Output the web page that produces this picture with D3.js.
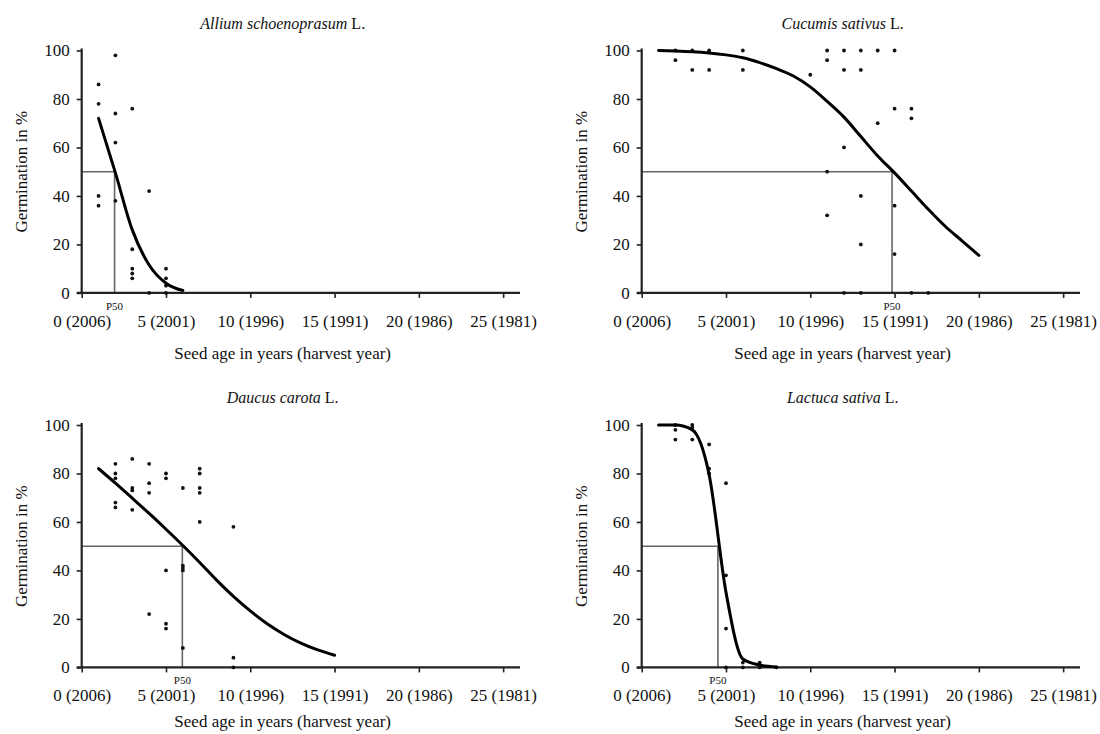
<!DOCTYPE html>
<html>
<head>
<meta charset="utf-8">
<script src="https://cdn.jsdelivr.net/npm/d3@7"></script>
<style>
  html, body { margin: 0; padding: 0; background: #fff; }
  svg { display: block; }
  text { font-family: "Liberation Serif", "DejaVu Serif", "Times New Roman", Times, serif; fill: #111; }
</style>
</head>
<body>
<svg id="chart" width="1100" height="734"></svg>
<script>
// ---------- data ----------
const ageTicks = [0, 5, 10, 15, 20, 25];
const baseYear = 2006;
const germTicks = [0, 20, 40, 60, 80, 100];

const speciesNames = ["Allium schoenoprasum", "Cucumis sativus", "Daucus carota", "Lactuca sativa"];
const authority = " L.";

// observed germination: [seed age (years), germination %]
const alliumPoints = [
  [1, 86], [1, 78], [1, 40], [1, 36],
  [2, 98], [2, 74], [2, 62], [2, 38],
  [3, 76], [3, 18], [3, 10], [3, 8], [3, 6],
  [4, 42], [4, 0],
  [5, 10], [5, 6], [5, 3], [5, 0]
];
const cucumisPoints = [
  [2, 100], [2, 96],
  [3, 100], [3, 92],
  [4, 100], [4, 92],
  [6, 100], [6, 92],
  [10, 90],
  [11, 100], [11, 96], [11, 50], [11, 32],
  [12, 100], [12, 92], [12, 60], [12, 0],
  [13, 100], [13, 92], [13, 40], [13, 20], [13, 0],
  [14, 100], [14, 70],
  [15, 100], [15, 76], [15, 36], [15, 16],
  [16, 76], [16, 72], [16, 0],
  [17, 0]
];
const daucusPoints = [
  [2, 84], [2, 80], [2, 78], [2, 68], [2, 66],
  [3, 86], [3, 74], [3, 73], [3, 65],
  [4, 84], [4, 76], [4, 72], [4, 22],
  [5, 80], [5, 78], [5, 40], [5, 18], [5, 16],
  [6, 74], [6, 42], [6, 41], [6, 40], [6, 8],
  [7, 82], [7, 80], [7, 74], [7, 72], [7, 60],
  [9, 58], [9, 4], [9, 0]
];
const lactucaPoints = [
  [2, 100], [2, 98], [2, 94],
  [3, 100], [3, 99], [3, 94],
  [4, 92], [4, 82], [4, 80],
  [5, 76], [5, 38], [5, 16], [5, 0],
  [6, 2], [6, 0],
  [7, 2], [7, 0],
  [8, 0]
];

// fitted curves: [seed age, germination %]
const alliumFit = [[1, 72], [2, 49.5], [3, 26], [4, 11.5], [5, 4], [6, 1]];
const cucumisFit = [[1, 100], [2, 99.8], [3, 99.5], [4, 99], [5, 98.2], [6, 97], [7, 95], [8, 92.5],
  [9, 89.5], [10, 85], [11, 79], [12, 72.5], [13, 64.5], [14, 56.5], [15, 49.5], [16, 42], [17, 34.5],
  [18, 27.5], [19, 21.5], [20, 15.5]];
const daucusFit = [[1, 82], [2, 76], [3, 69.8], [4, 63.5], [5, 57], [6, 50.3], [7, 43.3], [8, 36],
  [9, 29.3], [10, 23.3], [11, 18], [12, 13.6], [13, 10], [14, 7.2], [15, 5]];
const lactucaFit = [[1, 100], [2, 100], [3, 98], [4, 79.5], [5, 31], [6, 3.5], [7, 1], [8, 0.2]];

// P50 (age at 50 % germination)
const p50Ages = [1.95, 14.85, 5.97, 4.52];
const p50Level = 50;

// ---------- layout ----------
const svg = d3.select("#chart");
const panelLeft = [81.7, 641.7];
const panelTop = [50.5, 425];
const plotW = 438.3;       // domain 0..26 years
const plotH = 242.4;
const xTitleOffset = [66, 60];

const panels = [
  { name: speciesNames[0], pts: alliumPoints, fit: alliumFit, p50: p50Ages[0], col: 0, row: 0 },
  { name: speciesNames[1], pts: cucumisPoints, fit: cucumisFit, p50: p50Ages[1], col: 1, row: 0 },
  { name: speciesNames[2], pts: daucusPoints, fit: daucusFit, p50: p50Ages[2], col: 0, row: 1 },
  { name: speciesNames[3], pts: lactucaPoints, fit: lactucaFit, p50: p50Ages[3], col: 1, row: 1 }
];

const FONT = "Liberation Serif, DejaVu Serif, Times New Roman, serif";

panels.forEach(p => {
  const x0 = panelLeft[p.col];
  const yT = panelTop[p.row];
  const yB = yT + plotH;
  const x = d3.scaleLinear().domain([0, 26]).range([x0, x0 + plotW]);
  const y = d3.scaleLinear().domain([0, 100]).range([yB, yT]);
  const g = svg.append("g");

  // P50 guide lines
  g.append("line")
    .attr("x1", x(0)).attr("x2", x(p.p50))
    .attr("y1", y(p50Level)).attr("y2", y(p50Level))
    .attr("stroke", "#666").attr("stroke-width", 1.6);
  g.append("line")
    .attr("x1", x(p.p50)).attr("x2", x(p.p50))
    .attr("y1", y(p50Level)).attr("y2", y(0))
    .attr("stroke", "#666").attr("stroke-width", 1.6);

  // x axis
  const xAxis = d3.axisBottom(x).tickValues(ageTicks).tickSize(5).tickSizeOuter(0)
    .tickFormat(d => `${d} (${baseYear - d})`);
  const gx = g.append("g").attr("transform", `translate(0,${yB})`).call(xAxis)
    .attr("font-family", FONT);
  gx.select(".domain").attr("stroke", "#222").attr("stroke-width", 2.2)
    .attr("d", `M${x0 - 5},0H${x0 + plotW}`);
  gx.selectAll(".tick line").attr("stroke", "#222").attr("stroke-width", 1.6);
  gx.selectAll(".tick text").attr("y", 34).attr("dy", 0)
    .attr("font-size", 17).attr("fill", "#111");

  // y axis
  const yAxis = d3.axisLeft(y).tickValues(germTicks).tickSize(5).tickSizeOuter(0).tickPadding(7);
  const gy = g.append("g").attr("transform", `translate(${x0},0)`).call(yAxis)
    .attr("font-family", FONT);
  gy.select(".domain").attr("stroke", "#222").attr("stroke-width", 2.2)
    .attr("d", `M0,${yT - 2}V${yB}`);
  gy.selectAll(".tick line").attr("stroke", "#222").attr("stroke-width", 1.6);
  gy.selectAll(".tick text").attr("font-size", 17).attr("fill", "#111");

  // data points
  g.append("g").selectAll("circle").data(p.pts).join("circle")
    .attr("cx", d => x(d[0])).attr("cy", d => y(d[1])).attr("r", 1.9).attr("fill", "#111");

  // fitted curve
  const line = d3.line().x(d => x(d[0])).y(d => y(d[1])).curve(d3.curveMonotoneX);
  g.append("path").datum(p.fit).attr("d", line)
    .attr("fill", "none").attr("stroke", "#000").attr("stroke-width", 3)
    .attr("stroke-linejoin", "round").attr("stroke-linecap", "round");

  // P50 label
  g.append("text").attr("x", x(p.p50)).attr("y", yB + 17)
    .attr("text-anchor", "middle").attr("font-size", 11).text("P50");

  // title
  const t = g.append("text").attr("x", x0 + 201).attr("y", yT - 22)
    .attr("text-anchor", "middle").attr("font-size", 16);
  t.append("tspan").attr("font-style", "italic").text(p.name);
  t.append("tspan").text(authority);

  // axis titles
  g.append("text").attr("x", x0 + 201).attr("y", yB + xTitleOffset[p.row])
    .attr("text-anchor", "middle").attr("font-size", 17).text("Seed age in years (harvest year)");
  g.append("text")
    .attr("transform", `translate(${x0 - 55},${(yT + yB) / 2}) rotate(-90)`)
    .attr("text-anchor", "middle").attr("font-size", 17).text("Germination in %");
});
</script>
</body>
</html>
